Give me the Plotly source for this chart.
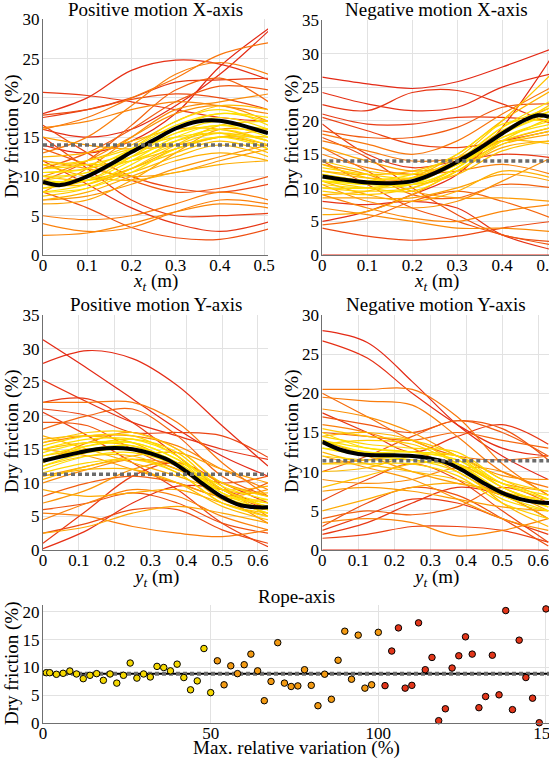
import plotly.graph_objects as go
from plotly.colors import sample_colorscale

W, H = 549, 761

# ---------------- data ----------------
# control positions of the curves along the axis (m)
ctrl_x = [0, 0.1, 0.2, 0.3, 0.4, 0.51]
ctrl_y = [0, 0.125, 0.25, 0.375, 0.5, 0.628]

# Positive motion X-axis
tl_curves = [
    [20.7, 20.3, 19.5, 18.5, 17.5, 17.0], [18, 20, 23.5, 24.8, 24.3, 22.3],
    [17.5, 18.5, 20, 22, 22.3, 22.5], [16, 15, 16, 19, 23, 28.5],
    [14, 13, 14.5, 18, 24, 28.8], [16.5, 13, 10, 8.5, 8, 9],
    [12, 9, 6, 4, 3, 4.2], [8, 6, 3.5, 2.2, 2, 3.3],
    [15, 11, 7, 5, 5, 5.3], [13.5, 11.5, 9.5, 8, 8.5, 10],
    [17.8, 18.5, 19.8, 20.5, 20, 18.5], [11, 13, 16, 19.5, 21.5, 21],
    [9.5, 12, 16.5, 21, 22.5, 19.5],
    [5, 4.5, 5, 6.5, 8, 7], [4, 3, 3.5, 5.5, 7, 6.5],
    [2.5, 2.8, 4, 5.5, 6.5, 6.0], [16, 17.5, 20, 22.5, 25.5, 27],
    [13, 15, 19, 23, 24.5, 23], [8, 11, 15, 18.5, 19.5, 20.5],
    [10, 12, 15, 18, 19, 17], [7, 7.5, 9, 11, 12.5, 14],
    [12, 11, 10, 10.5, 12, 13.5], [15, 14, 13.5, 14, 15, 16],
    [16.2, 17, 18.5, 19.5, 19, 18], [6.5, 7, 9.5, 13, 16, 15.5],
    [9, 9.5, 11, 13.5, 15, 14], [11.5, 10, 9.5, 10.5, 11.5, 12],
    [9, 10, 12.5, 15.5, 17, 15.5], [10, 10.5, 13, 16, 17.5, 16],
    [8, 9, 11.5, 14.5, 16, 14.5], [11, 11.5, 13, 15.5, 16.5, 16],
    [9.5, 10.5, 12, 14, 15.5, 14.5], [8.5, 9.5, 12.5, 16, 18, 17],
    [10.5, 11, 12.5, 14.5, 15.5, 13.5], [12, 11.5, 12, 13.5, 15, 15],
    [7.5, 8.5, 11, 14, 16.5, 17], [9, 9, 11, 13, 14.5, 13],
    [11, 12, 14, 17, 19, 18.5], [10, 9.5, 10.5, 12.5, 14, 12.5],
    [8.5, 10, 13.5, 17, 18.5, 16.5], [12.5, 13, 14.5, 16, 16, 14.5],
    [7, 8, 10, 12, 13, 12], [9.5, 9.5, 12, 15, 16.5, 15],
    [10.5, 11, 13.5, 16.5, 18, 17.5], [8, 8.5, 10.5, 13.5, 15, 13.5],
    [11.5, 12, 13.5, 15, 15.5, 14],
]
tl_var = [140, 146, 138, 148, 150, 132, 142, 126, 136, 120, 128, 118, 112,
          96, 92, 88, 100, 94, 84, 80, 76, 72, 68, 90, 66, 62, 58,
          4, 8, 12, 16, 20, 24, 28, 36, 32, 40, 46, 44, 14, 52, 56,
          2, 6, 10, 18]
tl_mean_x = [0, 0.04, 0.1, 0.15, 0.2, 0.25, 0.3, 0.35, 0.4, 0.45, 0.509]
tl_mean_y = [9.3, 8.9, 10.0, 11.45, 13.1, 14.6, 16.1, 17.0, 17.1, 16.5, 15.5]
tl_avg = 14.0

# Negative motion X-axis
tr_curves = [
    [26.5, 25.5, 24.8, 25.8, 28, 30.7], [24.2, 22.5, 21.5, 22, 25, 27],
    [22.4, 21.5, 24.2, 24.5, 22.5, 19.5], [21, 19.5, 19.5, 20.5, 20.5, 20],
    [20.5, 18.5, 16.5, 16, 17, 18.5], [4, 2.8, 2.2, 2.8, 4, 5],
    [5, 6.5, 9, 12, 19, 29.5], [17.5, 14.5, 10, 6, 3, 2],
    [14, 10.5, 7, 5, 3, 1.5], [8, 7.5, 8, 7, 3, 0.8],
    [18.5, 17.5, 17.5, 19, 22, 22.5], [16, 12.5, 9, 8.5, 10.5, 10],
    [4.5, 5.5, 8, 9.5, 8, 5.5], [19.5, 15, 13, 14, 15, 14.5],
    [0, 0, 0, 0, 0, 0],
    [18, 16.5, 15, 17, 21, 25], [17, 15.5, 14, 14.5, 17, 19],
    [15, 13, 12, 12.5, 13.5, 12], [9, 7, 5.5, 5, 6.5, 7.5],
    [7, 6, 5, 4, 4, 3.5], [10.5, 8, 7, 8, 11, 14.5],
    [12, 11, 11.5, 14, 18.5, 22], [13.5, 12, 9.5, 8.5, 8.5, 8],
    [8.5, 8.5, 8.5, 10, 12, 11], [16, 14, 12.5, 13.5, 16.5, 18],
    [6, 6.5, 9, 12.5, 16, 17], [11, 9, 8, 9.5, 12.5, 11.5],
    [11.5, 10.5, 11, 13.5, 18, 21], [12, 11, 10.5, 13, 17.5, 20],
    [10.5, 10, 10.5, 14, 19, 22], [13, 12, 11.5, 13.5, 17, 19],
    [11, 10, 9.5, 12.5, 17, 20.5], [12.5, 11.5, 11.5, 14.5, 20, 27],
    [10, 9.5, 10, 12.5, 16.5, 18.5], [14, 12.5, 12, 14, 18, 21.5],
    [9.5, 9, 10, 13, 18, 22.5], [13.5, 11.5, 10.5, 12, 15.5, 17],
    [11, 11, 12, 15, 19.5, 20], [12.5, 12, 12.5, 14.5, 17, 16.5],
    [9, 9.5, 11.5, 15, 20, 24.5], [11, 10.5, 10.5, 13, 18.5, 21.5],
    [12, 11, 11, 14, 19, 23], [10, 10, 11, 13.5, 17.5, 19.5],
]
tr_var = [150, 146, 142, 138, 134, 130, 148, 126, 122, 144, 118, 114, 110, 140, 150,
          100, 96, 92, 88, 84, 80, 76, 72, 68, 64, 60, 56,
          4, 8, 12, 16, 20, 36, 24, 28, 32, 40, 10, 48, 52, 2, 6, 14]
tr_mean_x = [0, 0.05, 0.1, 0.15, 0.2, 0.25, 0.3, 0.35, 0.4, 0.45, 0.48, 0.504]
tr_mean_y = [11.7, 11.2, 10.8, 10.7, 11.0, 12.2, 13.9, 15.9, 18.1, 20.1, 20.8, 20.6]
tr_avg = 14.0

# Positive motion Y-axis
ml_curves = [
    [31.3, 27, 22.5, 18, 14, 11], [27.8, 29.7, 28.5, 24.5, 18.5, 12.5],
    [25.3, 22, 19, 17, 15, 13.5], [22, 22.5, 19, 14, 9, 6],
    [20.5, 17, 13, 9, 4, 0.5], [21, 20, 17.5, 17.5, 17, 13.8],
    [0.2, 3, 7, 9.5, 9, 6], [2.5, 4, 6, 6, 3, 1],
    [6, 7, 8.5, 7, 4, 2.5], [19, 18.5, 15, 12, 10, 11],
    [1, 6, 11, 13, 10, 7], [8, 10, 11, 10, 8, 10],
    [18, 20, 21, 17, 11, 8],
    [22, 22, 22, 19, 13, 8], [5.5, 5, 3.5, 2.5, 2, 3],
    [4.5, 7, 9, 8, 5, 3], [16, 17, 17, 15.5, 12, 9],
    [10, 12, 13.5, 12.5, 8, 4], [13, 16, 17.5, 15, 9.5, 5],
    [7, 9, 12, 13, 10, 8], [15, 14, 12, 10, 8, 9],
    [11, 12.5, 14, 14.5, 12, 10], [2.5, 3.5, 5.5, 6.5, 5.5, 4],
    [9, 8, 8.5, 9, 7, 5], [17, 15, 13, 11, 9, 9.5],
    [13.5, 15, 15.5, 13, 8.5, 6.5], [14.5, 16, 16, 13.5, 8.5, 7],
    [12, 14, 14.5, 12.5, 8, 6], [15.5, 17, 17, 14, 9, 7],
    [11.5, 13, 13.5, 11.5, 7, 5], [13, 15.5, 16.5, 14.5, 9, 6.5],
    [16, 17.5, 17.5, 15, 10, 8], [12.5, 14, 14, 11.5, 7, 5.5],
    [14, 15, 15, 12.5, 8, 7.5], [10.5, 12.5, 13.5, 12, 8, 5.5],
    [15, 16, 15.5, 13, 9, 8.5], [11, 12, 12, 10, 6.5, 4.5],
    [16.5, 17, 16, 12.5, 7.5, 6], [14, 15.5, 16, 13.5, 9.5, 7.5],
    [12.5, 14.5, 15, 13, 8, 5.5], [15, 16.5, 16.5, 14, 8.5, 6],
]
ml_var = [150, 148, 144, 140, 136, 132, 146, 128, 124, 120, 138, 116, 112,
          100, 96, 92, 88, 84, 80, 76, 72, 68, 64, 60, 56,
          4, 8, 12, 16, 20, 24, 28, 32, 36, 40, 44, 48, 52, 2, 6, 10]
ml_mean_x = [0, 0.05, 0.1, 0.15, 0.2, 0.25, 0.3, 0.35, 0.4, 0.45, 0.5, 0.55, 0.6, 0.628]
ml_mean_y = [13.3, 13.9, 14.5, 15.0, 15.2, 15.0, 14.4, 13.4, 11.7, 9.7, 7.9, 6.7, 6.35, 6.35]
ml_avg = 11.3

# Negative motion Y-axis
mr_curves = [
    [28, 26.5, 21.5, 16, 12, 9], [26.7, 24.5, 20, 16, 13, 12],
    [17.5, 15, 12.5, 14.5, 16, 13.5], [2.5, 4.5, 6.5, 6, 4, 2],
    [1.5, 2, 3, 3, 2.5, 1], [6.3, 9, 11, 9, 5, 1],
    [3, 6, 8, 7, 4, 0.5], [17, 16, 15, 16.5, 15.5, 11.5],
    [10, 12, 14.5, 16.5, 15, 12], [4, 5, 4.5, 5.5, 8, 6],
    [15, 14.5, 14, 15, 14, 13], [2, 3.5, 6, 8, 7, 4],
    [0, 0, 0, 0, 0, 0], [20, 17, 14, 12, 11.5, 12],
    [20.5, 20.5, 20.5, 17, 11, 7], [19.5, 19, 18.5, 14.5, 10, 8],
    [16, 15, 13, 10, 7, 6], [3.5, 4, 3.5, 1.8, 2.5, 4],
    [9, 8.5, 9, 10.5, 10, 7], [18, 17, 15, 12, 9.5, 9],
    [12, 10.5, 9, 6.5, 4, 2.5], [7.5, 8, 7.5, 6.5, 5.5, 5],
    [14, 12, 10, 8.5, 7.5, 5], [11, 11.5, 12, 11, 8.5, 7.5],
    [5, 6.5, 8, 8.5, 7, 4],
    [14, 12.5, 12.5, 11.5, 8, 6], [13, 12, 11.5, 10.5, 7, 5],
    [15, 13, 12.5, 12, 8.5, 7], [12, 11.5, 11.5, 10, 6.5, 5],
    [14.5, 13.5, 13, 12.5, 9, 7.5], [11, 11, 11, 9.5, 6, 4],
    [13.5, 14, 13.5, 11, 7.5, 6.5], [8, 9.5, 11, 11, 8, 5.5],
    [15.5, 14.5, 14, 12, 8, 6], [12.5, 11, 10, 9, 7, 6],
    [10, 10.5, 12, 12, 9, 6.5], [14.5, 15, 14, 11, 6, 3],
    [13, 12.5, 12, 11, 7.5, 5.5], [14, 13, 12.5, 11.5, 8.5, 6.5],
]
mr_var = [150, 146, 142, 138, 134, 130, 126, 122, 118, 114, 110, 140, 150, 106,
          100, 96, 92, 88, 84, 80, 76, 72, 68, 64, 60,
          4, 8, 12, 16, 20, 24, 28, 40, 32, 48, 44, 52, 2, 6]
mr_mean_x = [0, 0.05, 0.1, 0.15, 0.2, 0.25, 0.3, 0.35, 0.4, 0.45, 0.5, 0.55, 0.6, 0.63]
mr_mean_y = [13.8, 12.8, 12.25, 12.1, 12.1, 12.0, 11.7, 11.1, 9.9, 8.5, 7.3, 6.5, 6.1, 6.0]
mr_avg = 11.4

# Rope-axis
rope_x = [1, 2] + list(range(4, 151, 2))
rope_y = [9.07, 9.07, 8.78, 8.96, 9.37, 8.84, 8.0, 8.6, 8.9, 7.7, 8.84, 7.2, 8.6,
          10.8, 8.1, 8.84, 8.3, 10.2, 10.0, 9.4, 10.6, 8.2, 6.0, 7.6, 13.4,
          5.5, 11.2, 6.9, 10.3, 8.9, 10.5, 12.4, 9.4, 4.05, 7.5, 14.45, 7.2, 6.6,
          6.7, 9.6, 6.8, 3.15, 8.8, 4.3, 11.3, 16.5, 7.9, 15.8, 6.3,
          6.9, 16.3, 6.75, 12.95, 17.1, 6.3, 6.8, 18.0, 9.6, 11.8, 0.47, 2.6,
          9.9, 12.1, 15.5, 12.4, 2.8, 4.8, 12.2, 5.1, 20.2, 2.45, 14.9,
          8.2, 4.5, 0.1, 20.5]
rope_avg = 8.9

# ---------------- styling ----------------
FONT = "'Liberation Serif', 'DejaVu Serif', serif"
line_scale = [[0, "rgb(255,232,0)"], [0.35, "rgb(255,180,0)"],
              [0.65, "rgb(250,122,12)"], [1, "rgb(228,42,22)"]]
YELLOW, ORANGE, RED = "#f5d800", "#f39a12", "#e2361a"


def px_x(p):
    return p / W


def px_y(p):
    return 1 - p / H


def curve_color(v):
    return sample_colorscale(line_scale, [v / 150])[0]


fig = go.Figure()

panels = [
    (tl_curves, tl_var, ctrl_x, tl_mean_x, tl_mean_y, tl_avg, "x", "y", 0.509),
    (tr_curves, tr_var, ctrl_x, tr_mean_x, tr_mean_y, tr_avg, "x2", "y2", 0.504),
    (ml_curves, ml_var, ctrl_y, ml_mean_x, ml_mean_y, ml_avg, "x3", "y3", 0.628),
    (mr_curves, mr_var, ctrl_y, mr_mean_x, mr_mean_y, mr_avg, "x4", "y4", 0.63),
]

for curves, var, cx, mx, my, avg, xa, ya, xmax in panels:
    order = sorted(range(len(curves)), key=lambda i: -var[i])
    for i in order:
        fig.add_trace(go.Scatter(x=cx, y=curves[i], mode="lines", xaxis=xa, yaxis=ya,
                                 line=dict(color=curve_color(var[i]), width=1.2, shape="spline"),
                                 showlegend=False, hoverinfo="skip"))
    fig.add_trace(go.Scatter(x=mx, y=my, mode="lines", xaxis=xa, yaxis=ya,
                             line=dict(color="black", width=4, shape="spline"),
                             showlegend=False))
    fig.add_trace(go.Scatter(x=[0, xmax], y=[avg, avg], mode="lines", xaxis=xa, yaxis=ya,
                             line=dict(color="#6b6b6b", width=3.5, dash="4px,3px"),
                             showlegend=False))

# rope scatter
rope_colors = [YELLOW if v <= 50 else (ORANGE if v <= 100 else RED) for v in rope_x]
fig.add_trace(go.Scatter(x=[0, 150.9], y=[rope_avg, rope_avg], mode="lines", xaxis="x5", yaxis="y5",
                         line=dict(color="black", width=2), showlegend=False))
fig.add_trace(go.Scatter(x=[0, 150.9], y=[rope_avg, rope_avg], mode="lines", xaxis="x5", yaxis="y5",
                         line=dict(color="#6b6b6b", width=4, dash="4px,3px"), showlegend=False))
fig.add_trace(go.Scatter(x=rope_x, y=rope_y, mode="markers", xaxis="x5", yaxis="y5",
                         marker=dict(size=6.5, color=rope_colors, line=dict(color="black", width=1)),
                         cliponaxis=False, showlegend=False))

axis_common = dict(showgrid=True, gridcolor="#e2e2e2", gridwidth=1, showline=True,
                   linecolor="#707070", linewidth=1, zeroline=False, ticks="", automargin=False,
                   ticklabeloverflow="allow",
                   tickfont=dict(family=FONT, size=17, color="black"))
xcommon = dict(axis_common, ticklabelstandoff=-5)
ycommon = dict(axis_common, ticklabelstandoff=-1)

left_dom = [px_x(43), px_x(268)]
right_dom = [px_x(322.3), 1.0]
top_dom = [px_y(255), px_y(19.3)]
mid_dom = [px_y(550), px_y(315)]

fig.update_layout(
    width=W, height=H, margin=dict(l=0, r=0, t=0, b=0, pad=0, autoexpand=False),
    paper_bgcolor="white", plot_bgcolor="white",
    font=dict(family=FONT, size=17, color="black"),
    xaxis=dict(xcommon, domain=left_dom, range=[0, 0.509], dtick=0.1, tick0=0, anchor="y"),
    yaxis=dict(ycommon, domain=top_dom, range=[0, 30], dtick=5, anchor="x"),
    xaxis2=dict(xcommon, domain=right_dom, range=[0, 0.504], dtick=0.1, tick0=0, anchor="y2"),
    yaxis2=dict(ycommon, domain=[px_y(255), px_y(20)], range=[0, 35], dtick=5, anchor="x2"),
    xaxis3=dict(xcommon, domain=left_dom, range=[0, 0.628], dtick=0.1, tick0=0, anchor="y3"),
    yaxis3=dict(ycommon, domain=mid_dom, range=[0, 35], dtick=5, anchor="x3"),
    xaxis4=dict(xcommon, domain=right_dom, range=[0, 0.63], dtick=0.1, tick0=0, anchor="y4"),
    yaxis4=dict(ycommon, domain=mid_dom, range=[0, 30], dtick=5, anchor="x4"),
    xaxis5=dict(xcommon, domain=[px_x(43), 1.0], range=[0, 150.9], dtick=50, tick0=0, anchor="y5",
                ticklabelstandoff=-6),
    yaxis5=dict(ycommon, domain=[px_y(723.3), px_y(605)], range=[0, 21.2], dtick=5, anchor="x5"),
)

texts = [
    ("Positive motion X-axis", 155.5, 9, 0), ("Negative motion X-axis", 436, 9.5, 0),
    ("Positive motion Y-axis", 155.5, 305, 0), ("Negative motion Y-axis", 436, 305, 0),
    ("Rope-axis", 296, 596, 0),
    ("<i>x</i><sub><i>t</i></sub> (m)", 155.5, 282, 0), ("<i>x</i><sub><i>t</i></sub> (m)", 436, 282, 0),
    ("<i>y</i><sub><i>t</i></sub> (m)", 155.5, 578, 0), ("<i>y</i><sub><i>t</i></sub> (m)", 436, 578, 0),
    ("Max. relative variation (%)", 296, 748, 0),
    ("Dry friction (%)", 12, 137, -90), ("Dry friction (%)", 292, 137, -90),
    ("Dry friction (%)", 12, 432, -90), ("Dry friction (%)", 292, 432, -90),
    ("Dry friction (%)", 12, 664, -90),
]
for t, x, y, ang in texts:
    fig.add_annotation(text=t, x=px_x(x), y=px_y(y), xref="paper", yref="paper",
                       xanchor="center", yanchor="middle", showarrow=False, textangle=ang,
                       font=dict(family=FONT, size=19, color="black"))

# pin the figure to the page corner so body margins and scrollbars do not move it
pin = ("document.body.style.margin='0px';"
       "document.documentElement.style.overflow='hidden';"
       "var d=document.getElementById('{plot_id}');"
       "d.style.position='fixed';d.style.left='0px';d.style.top='0px';")
fig.write_html("out.html", config={"displayModeBar": False}, post_script=pin)
